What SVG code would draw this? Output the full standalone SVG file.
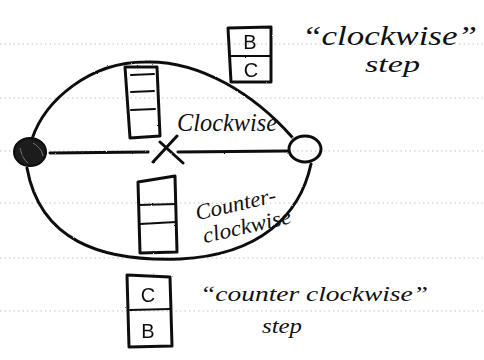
<svg xmlns="http://www.w3.org/2000/svg" width="484" height="360" viewBox="0 0 484 360">
  <defs>
    <!-- slight wobble so the pen strokes look hand drawn -->
    <filter id="pen" x="-5%" y="-5%" width="110%" height="110%">
      <feTurbulence type="fractalNoise" baseFrequency="0.9" numOctaves="2" seed="3" result="n"/>
      <feDisplacementMap in="SourceGraphic" in2="n" scale="1.6" xChannelSelector="R" yChannelSelector="G"/>
    </filter>
  </defs>
  <style>
    .rule { stroke: #c4c4c4; stroke-width: 1; stroke-dasharray: 1.5 3; fill: none; }
    .ink { stroke: #111; stroke-width: 3; fill: none; stroke-linecap: round; stroke-linejoin: round; }
    .thin { stroke: #111; stroke-width: 2; fill: none; stroke-linecap: round; }
    .hand { font-family: "Liberation Serif", "DejaVu Serif", serif; font-style: italic; fill: #111; }
    .cell { font-family: "Liberation Sans", "DejaVu Sans", sans-serif; fill: #111; font-size: 20px; text-anchor: middle; }
  </style>

  <rect width="484" height="360" fill="#ffffff"/>

  <!-- ruled paper -->
  <g id="paper-rules">
    <line class="rule" x1="0" y1="44" x2="484" y2="44"/>
    <line class="rule" x1="0" y1="98" x2="484" y2="98"/>
    <line class="rule" x1="0" y1="151" x2="484" y2="151"/>
    <line class="rule" x1="0" y1="203" x2="484" y2="203"/>
    <line class="rule" x1="0" y1="258" x2="484" y2="258"/>
    <line class="rule" x1="0" y1="311" x2="484" y2="311"/>
  </g>

  <!-- loop arcs and straight track -->
  <g id="connectors" filter="url(#pen)">
    <path class="ink" d="M32,139 C45,100 90,62 145,62 C200,60 255,95 292,137"/>
    <path class="ink" d="M311,164 C300,215 260,255 180,259 C100,262 40,240 27,168"/>
    <path class="ink" d="M50,153 L148,152"/>
    <path class="ink" d="M178,152 L288,151"/>
  </g>

  <g id="left-end" filter="url(#pen)">
    <ellipse cx="30" cy="152" rx="16" ry="14" fill="#1a1a1a" stroke="#111" stroke-width="2"/>
    <path d="M20,148 C22,156 24,160 28,163 M33,143 C38,146 42,150 43,156" stroke="#777" stroke-width="1" fill="none"/>
  </g>

  <g id="right-end" filter="url(#pen)">
    <ellipse class="ink" cx="305" cy="149" rx="16" ry="13"/>
  </g>

  <g id="junction" filter="url(#pen)">
    <path class="ink" d="M153,162 L177,136 M160,142 L183,163"/>
  </g>

  <g id="stack-clockwise" filter="url(#pen)">
    <path class="ink" d="M125,67 L157,67 L160,136 L130,138 Z"/>
    <path class="thin" d="M131,75 L154,74 M131,92 L154,91 M131,110 L155,109"/>
  </g>

  <g id="stack-counter" filter="url(#pen)">
    <path class="ink" d="M138,182 L175,176 L177,252 L140,253 Z"/>
    <path class="thin" d="M139,205 L176,204 M140,224 L176,222"/>
  </g>

  <g id="state-bc" filter="url(#pen)">
    <path class="ink" d="M228,28 L271,27 L271,82 L231,82 Z"/>
    <path class="thin" d="M231,56 L270,56"/>
    <text class="cell" x="250" y="49">B</text>
    <text class="cell" x="251" y="77">C</text>
  </g>

  <g id="state-cb" filter="url(#pen)">
    <path class="ink" d="M127,275 L170,277 L172,346 L129,347 Z"/>
    <path class="thin" d="M130,310 L170,309"/>
    <text class="cell" x="148" y="302">C</text>
    <text class="cell" x="148" y="338">B</text>
  </g>

  <g id="labels">
    <text class="hand" x="177" y="131" font-size="26" textLength="100" lengthAdjust="spacingAndGlyphs">Clockwise</text>
    <g transform="rotate(-13 242 214)">
      <text class="hand" x="197" y="210" font-size="22" textLength="82" lengthAdjust="spacingAndGlyphs">Counter-</text>
      <text class="hand" x="199" y="234" font-size="22" textLength="90" lengthAdjust="spacingAndGlyphs">clockwise</text>
    </g>
    <text class="hand" x="302" y="45" font-size="28" textLength="175" lengthAdjust="spacingAndGlyphs">“clockwise”</text>
    <text class="hand" x="365" y="72" font-size="24" textLength="55" lengthAdjust="spacingAndGlyphs">step</text>
    <text class="hand" x="200" y="301" font-size="22" textLength="228" lengthAdjust="spacingAndGlyphs">“counter clockwise”</text>
    <text class="hand" x="262" y="333" font-size="21" textLength="40" lengthAdjust="spacingAndGlyphs">step</text>
  </g>
</svg>
